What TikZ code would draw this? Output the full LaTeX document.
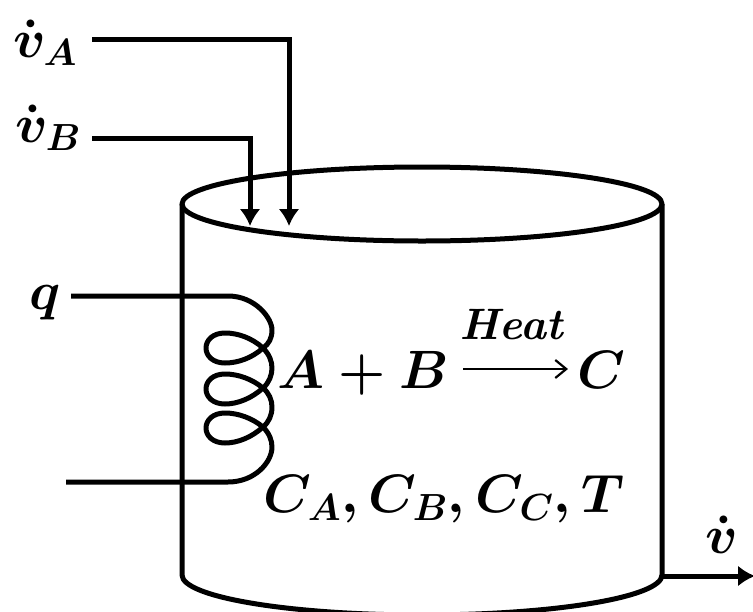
\documentclass[tikz,border=0pt]{standalone}
\usepackage{fix-cm}
\usepackage{amsmath}
\usepackage{tikz}
\usetikzlibrary{arrows.meta,positioning}

\begin{document}
\begin{tikzpicture}[
        x=1pt, y=-1pt, line width=5pt,
        lbl/.style={inner sep=0pt, font=\fontsize{54}{64}\selectfont\boldmath},
        rxn/.style={lbl, anchor=base},
        flow/.style={-{Latex[length=17pt,width=21pt]}},
        wall/.style={line join=round},
        coil/.style={line join=round}
      ]
        \useasboundingbox (0,0) rectangle (753,611);
        % tank
        \draw[wall] (422,204) ellipse [x radius=240, y radius=37];
        \draw[wall] (182,204) -- (182,575) arc[start angle=180, end angle=0, x radius=240, y radius=40] -- (662,204);
        % labels
        \node[lbl] (vA)   at (45,43)   {$\dot{v}_A$};
        \node[lbl] (vB)   at (48,128)  {$\dot{v}_B$};
        \node[lbl] (q)    at (45,303)  {$q$};
        \node[rxn] (rxnL) at (363,388) {$A+B$};
        \node[rxn] (heat) at (513,339) {\fontsize{44}{50}\selectfont$\mathit{Heat}$};
        \node[rxn] (rxnR) at (601,388) {$C$};
        \node[rxn] (conc) at (444,512) {$C_A,C_B,C_C,T$};
        \node[lbl] (vout) at (722,535) {$\dot{v}$};
        % feeds
        \coordinate (startA) at (92,39);
        \coordinate (startB) at (92,138);
        \coordinate (endA) at (289,226);
        \coordinate (endB) at (250,226);
        \coordinate (outL) at (662,576);
        \coordinate (outR) at (755,576);
        \draw[flow] (startA) -| (endA);
        \draw[flow] (startB) -| (endB);
        \draw[flow] (outL) -- (outR);
        % reaction arrow
        \coordinate (arrowL) at (463,369);
        \coordinate (arrowR) at (568,369);
        \draw[-{Straight Barb[length=11pt,width=18pt]}, line width=2.2pt] (arrowL) -- (arrowR);
        % heating coil
        \coordinate (coilin) at (71,296);
        \coordinate (coilout) at (66,482);
        \draw[coil] (coilin) -- (228,296)
          .. controls (255,296) and (272,318) .. (272,330)
          .. controls (272,338) and (269,344) .. (263,348)
          .. controls (252,358) and (238,363) .. (225,363)
          .. controls (213,363) and (206,356) .. (206,348)
          .. controls (206,340) and (213,333) .. (225,333)
          .. controls (238,333) and (252,338) .. (263,348)
          .. controls (269,354) and (272,361) .. (272,368)
          .. controls (272,375) and (269,383) .. (263,388)
          .. controls (252,398) and (238,404) .. (225,404)
          .. controls (213,404) and (206,397) .. (206,389)
          .. controls (206,381) and (213,374) .. (225,374)
          .. controls (238,374) and (252,379) .. (263,388)
          .. controls (269,393) and (272,400) .. (272,407)
          .. controls (272,415) and (269,422) .. (263,427)
          .. controls (252,437) and (238,443) .. (225,443)
          .. controls (213,443) and (206,436) .. (206,428)
          .. controls (206,420) and (213,413) .. (225,413)
          .. controls (238,413) and (252,418) .. (263,427)
          .. controls (269,433) and (272,440) .. (272,447)
          .. controls (272,462) and (255,482) .. (228,482)
          -- (coilout);
      \end{tikzpicture}
\end{document}
